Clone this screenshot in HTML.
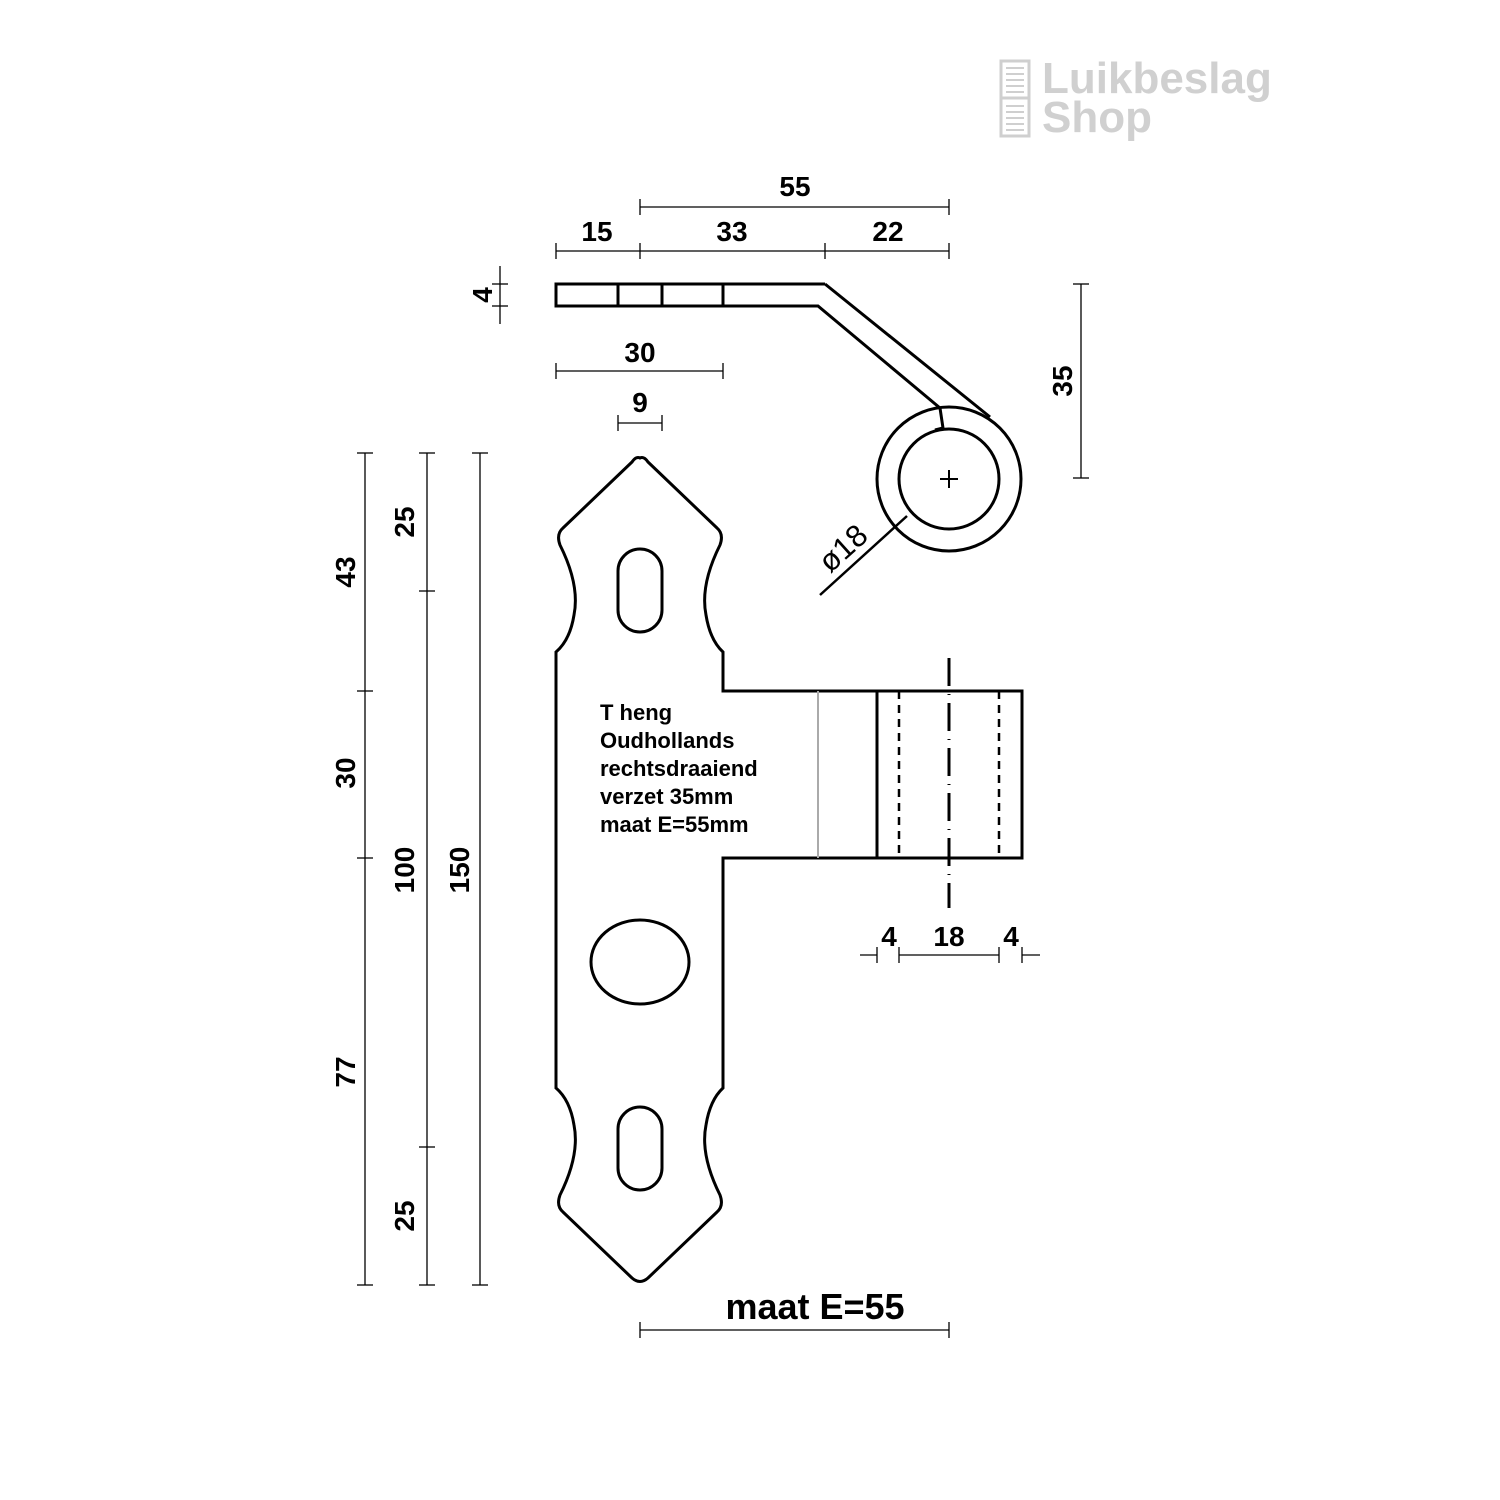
<!DOCTYPE html>
<html><head><meta charset="utf-8"><style>
body{margin:0;background:#fff}
svg{display:block}
text{font-family:"Liberation Sans",Arial,sans-serif;font-weight:bold;fill:#000}
</style></head><body>
<svg width="1500" height="1500" viewBox="0 0 1500 1500" xmlns="http://www.w3.org/2000/svg">
<!-- logo -->
<g fill="none" stroke="#cfcfcf" stroke-width="3">
<rect x="1001" y="61" width="28" height="75"/>
<line x1="1001" y1="98" x2="1029" y2="98"/>
<g stroke-width="2"><line x1="1006" y1="68" x2="1024" y2="68"/><line x1="1006" y1="74" x2="1024" y2="74"/><line x1="1006" y1="80" x2="1024" y2="80"/><line x1="1006" y1="86" x2="1024" y2="86"/><line x1="1006" y1="92" x2="1024" y2="92"/>
<line x1="1006" y1="106" x2="1024" y2="106"/><line x1="1006" y1="112" x2="1024" y2="112"/><line x1="1006" y1="118" x2="1024" y2="118"/><line x1="1006" y1="124" x2="1024" y2="124"/><line x1="1006" y1="130" x2="1024" y2="130"/></g>
</g>
<text x="1042" y="93" font-size="44" style="font-weight:bold;fill:#d0d0d0">Luikbeslag</text>
<text x="1042" y="132" font-size="44" style="font-weight:bold;fill:#d0d0d0">Shop</text>

<g stroke="#000" fill="none" stroke-width="1.3">
<line x1="640" y1="207" x2="949" y2="207"/><line x1="640" y1="199" x2="640" y2="215"/><line x1="949" y1="199" x2="949" y2="215"/>
<line x1="556" y1="251" x2="949" y2="251"/>
<line x1="556" y1="243" x2="556" y2="259"/><line x1="640" y1="243" x2="640" y2="259"/><line x1="825" y1="243" x2="825" y2="259"/><line x1="949" y1="243" x2="949" y2="259"/>
<line x1="500" y1="266" x2="500" y2="324"/><line x1="492" y1="284" x2="508" y2="284"/><line x1="492" y1="306" x2="508" y2="306"/>
<line x1="556" y1="371" x2="723" y2="371"/><line x1="556" y1="363" x2="556" y2="379"/><line x1="723" y1="363" x2="723" y2="379"/>
<line x1="618" y1="423" x2="662" y2="423"/><line x1="618" y1="415" x2="618" y2="431"/><line x1="662" y1="415" x2="662" y2="431"/>
<line x1="1081" y1="284" x2="1081" y2="478"/><line x1="1073" y1="284" x2="1089" y2="284"/><line x1="1073" y1="478" x2="1089" y2="478"/>
<line x1="365" y1="453" x2="365" y2="1285"/>
<line x1="357" y1="453" x2="373" y2="453"/><line x1="357" y1="691" x2="373" y2="691"/><line x1="357" y1="858" x2="373" y2="858"/><line x1="357" y1="1285" x2="373" y2="1285"/>
<line x1="427" y1="453" x2="427" y2="1285"/>
<line x1="419" y1="453" x2="435" y2="453"/><line x1="419" y1="591" x2="435" y2="591"/><line x1="419" y1="1147" x2="435" y2="1147"/><line x1="419" y1="1285" x2="435" y2="1285"/>
<line x1="480" y1="453" x2="480" y2="1285"/>
<line x1="472" y1="453" x2="488" y2="453"/><line x1="472" y1="1285" x2="488" y2="1285"/>
<line x1="860" y1="955" x2="877" y2="955"/><line x1="877" y1="947" x2="877" y2="963"/>
<line x1="899" y1="955" x2="999" y2="955"/><line x1="899" y1="947" x2="899" y2="963"/><line x1="999" y1="947" x2="999" y2="963"/>
<line x1="1022" y1="955" x2="1040" y2="955"/><line x1="1022" y1="947" x2="1022" y2="963"/>
<line x1="640" y1="1330" x2="949" y2="1330"/><line x1="640" y1="1322" x2="640" y2="1338"/><line x1="949" y1="1322" x2="949" y2="1338"/>
<line x1="820" y1="595" x2="907" y2="516" stroke-width="2.5"/>
<line x1="940" y1="479" x2="958" y2="479" stroke-width="2"/><line x1="949" y1="470" x2="949" y2="488" stroke-width="2"/>
</g>

<g stroke="#000" fill="none" stroke-width="3">
<path d="M825,284 L556,284 L556,306 L818,306 L940,408"/>
<line x1="618" y1="284" x2="618" y2="306"/><line x1="662" y1="284" x2="662" y2="306"/><line x1="723" y1="284" x2="723" y2="306"/>
<path d="M825,284 L990,417"/>
<circle cx="949" cy="479" r="72"/>
<circle cx="949" cy="479" r="50"/>
<path d="M940,408 L943,428 L935,430"/>
<path d="M640,458 Q636,456 632,462 L563,528 Q556,534 560,545 Q580,585 574,615 Q570,640 556,652 L556,1088 Q570,1100 574,1125 Q580,1155 560,1195 Q556,1206 563,1212 L632,1278 Q640,1285 648,1278 L717,1212 Q724,1206 720,1195 Q700,1155 706,1125 Q710,1100 723,1088 L723,858 L1022,858 L1022,691 L723,691 L723,652 Q710,640 706,615 Q700,585 720,545 Q724,534 717,528 L648,462 Q644,456 640,458 Z"/>
<rect x="618" y="549" width="44" height="83" rx="22"/>
<rect x="618" y="1107" width="44" height="83" rx="22"/>
<ellipse cx="640" cy="962" rx="49" ry="42"/>
<line x1="877" y1="691" x2="877" y2="858"/>
<line x1="899" y1="691" x2="899" y2="858" stroke-width="2.5" stroke-dasharray="8,6"/>
<line x1="999" y1="691" x2="999" y2="858" stroke-width="2.5" stroke-dasharray="8,6"/>
<line x1="949" y1="658" x2="949" y2="908" stroke-dasharray="28,8,1,8"/>
</g>
<line x1="818" y1="691" x2="818" y2="858" stroke="#aaa" stroke-width="2"/>

<g font-size="28" text-anchor="middle">
<text x="795" y="196">55</text>
<text x="597" y="241">15</text>
<text x="732" y="241">33</text>
<text x="888" y="241">22</text>
<text x="640" y="362">30</text>
<text x="640" y="412">9</text>
<text x="889" y="946">4</text>
<text x="949" y="946">18</text>
<text x="1011" y="946">4</text>
<text transform="translate(492,295) rotate(-90)">4</text>
<text transform="translate(1072,381) rotate(-90)">35</text>
<text transform="translate(355,572) rotate(-90)">43</text>
<text transform="translate(355,773) rotate(-90)">30</text>
<text transform="translate(355,1072) rotate(-90)">77</text>
<text transform="translate(414,522) rotate(-90)">25</text>
<text transform="translate(414,870) rotate(-90)">100</text>
<text transform="translate(414,1216) rotate(-90)">25</text>
<text transform="translate(469,870) rotate(-90)">150</text>
<text transform="translate(850,556) rotate(-42)" font-size="31" style="font-weight:normal">ø18</text>
</g>
<text x="815" y="1319" font-size="36" text-anchor="middle">maat E=55</text>
<g font-size="22">
<text x="600" y="720">T heng</text>
<text x="600" y="748">Oudhollands</text>
<text x="600" y="776">rechtsdraaiend</text>
<text x="600" y="804">verzet 35mm</text>
<text x="600" y="832">maat E=55mm</text>
</g>
</svg>
</body></html>
